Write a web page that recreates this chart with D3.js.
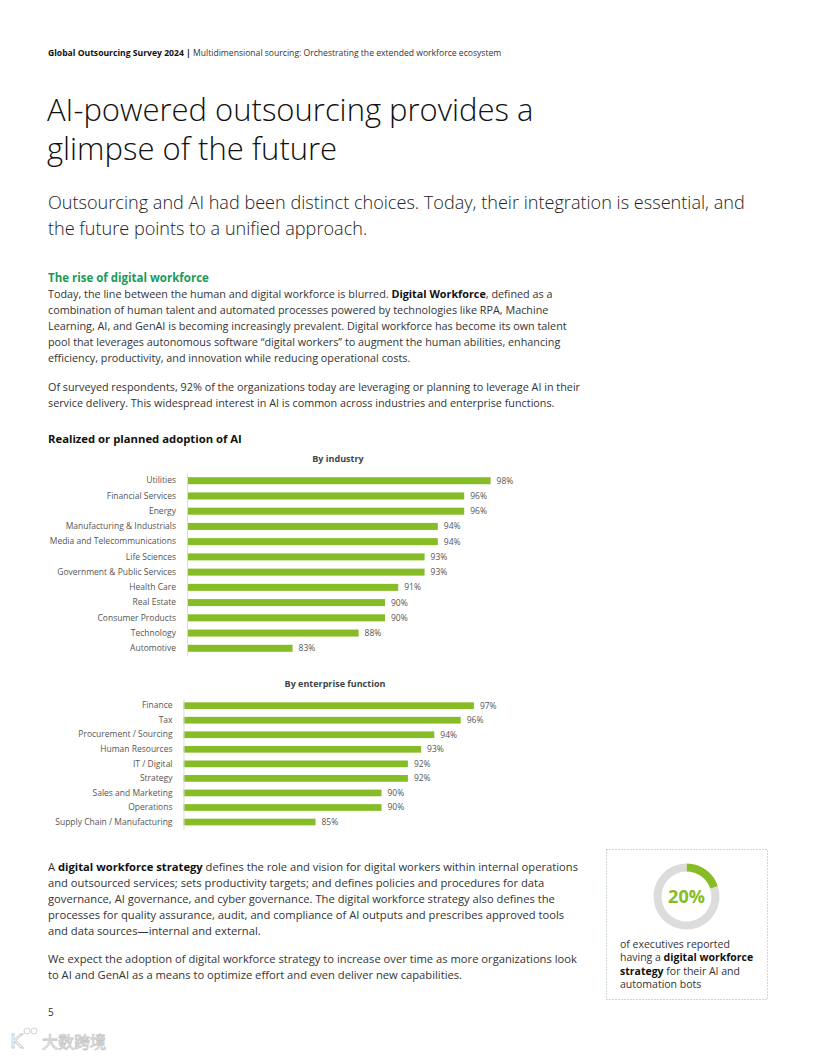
<!DOCTYPE html>
<html>
<head>
<meta charset="utf-8">
<style>
    body { margin: 0; background: #fff; }
    svg { display: block; font-family: 'Open Sans', sans-serif; }
</style>
</head>
<body>
<svg width="816" height="1056"></svg>

<script src="https://d3js.org/d3.v7.min.js"></script>
<script>
    // chart data
    let industries = ["Utilities", "Financial Services", "Energy", "Manufacturing & Industrials",
        "Media and Telecommunications", "Life Sciences", "Government & Public Services",
        "Health Care", "Real Estate", "Consumer Products", "Technology", "Automotive"];
    let industryValues = [98, 96, 96, 94, 94, 93, 93, 91, 90, 90, 88, 83];

    let functions = ["Finance", "Tax", "Procurement / Sourcing", "Human Resources", "IT / Digital",
        "Strategy", "Sales and Marketing", "Operations", "Supply Chain / Manufacturing"];
    let functionValues = [97, 96, 94, 93, 92, 92, 90, 90, 85];

    let donutValues = [20, 80];

    // page text, one entry per line; [text, true] = bold piece
    let para1 = [
        [["Today, the line between the human and digital workforce is blurred. "], ["Digital Workforce", true], [", defined as a"]],
        "combination of human talent and automated processes powered by technologies like RPA, Machine",
        "Learning, AI, and GenAI is becoming increasingly prevalent. Digital workforce has become its own talent",
        "pool that leverages autonomous software \u201cdigital workers\u201d to augment the human abilities, enhancing",
        "efficiency, productivity, and innovation while reducing operational costs."
    ];
    let para2 = [
        "Of surveyed respondents, 92% of the organizations today are leveraging or planning to leverage AI in their",
        "service delivery. This widespread interest in AI is common across industries and enterprise functions."
    ];
    let para3 = [
        [["A "], ["digital workforce strategy", true], [" defines the role and vision for digital workers within internal operations"]],
        "and outsourced services; sets productivity targets; and defines policies and procedures for data",
        "governance, AI governance, and cyber governance. The digital workforce strategy also defines the",
        "processes for quality assurance, audit, and compliance of AI outputs and prescribes approved tools",
        "and data sources\u2014internal and external."
    ];
    let para4 = [
        "We expect the adoption of digital workforce strategy to increase over time as more organizations look",
        "to AI and GenAI as a means to optimize effort and even deliver new capabilities."
    ];
    let boxText = [
        "of executives reported",
        [["having a "], ["digital workforce", true]],
        [["strategy", true], [" for their AI and"]],
        "automation bots"
    ];

    let green = "#86bc25";
    let svg = d3.select("svg");

    function drawLines(x, y0, lh, lines, size, color) {
        let t = svg.append("text")
            .attr("x", x)
            .attr("y", y0)
            .style("font-size", size + "px")
            .style("fill", color);
        lines.forEach((line, i) => {
            let parts = typeof line === "string" ? [[line]] : line;
            parts.forEach((p, j) => {
                let ts = t.append("tspan").text(p[0]);
                if (j === 0) ts.attr("x", x).attr("y", y0 + i * lh);
                if (p[1]) ts.style("font-weight", 700).style("fill", "#111");
            });
        });
        return t;
    }

    // header
    let head = svg.append("text").attr("x", 48).attr("y", 56).style("font-size", "8.6px").style("fill", "#333");
    head.append("tspan").text("Global Outsourcing Survey 2024 | ").style("font-weight", 700).style("fill", "#111");
    head.append("tspan").text("Multidimensional sourcing: Orchestrating the extended workforce ecosystem");

    // title + subtitle
    drawLines(47, 121, 39, ["AI-powered outsourcing provides a", "glimpse of the future"], 31, "#111")
        .style("font-weight", 300);
    drawLines(48, 209, 26, ["Outsourcing and AI had been distinct choices. Today, their integration is essential, and",
        "the future points to a unified approach."], 18.1, "#222")
        .style("font-weight", 300);

    svg.append("text").attr("x", 48).attr("y", 282)
        .style("font-size", "11.5px").style("font-weight", 700).style("fill", "#1a9a5a")
        .text("The rise of digital workforce");

    drawLines(48, 298, 16, para1, 10.8, "#333");
    drawLines(48, 391, 16, para2, 10.8, "#333");

    svg.append("text").attr("x", 48).attr("y", 443)
        .style("font-size", "11.3px").style("font-weight", 700).style("fill", "#111")
        .text("Realized or planned adoption of AI");

    function barChart(names, values, x0, yTop, yBottom, title, titleX, titleY) {
        let x = d3.scaleLinear().domain([75, 100]).range([x0, x0 + 25 * 13.2]);
        let y = d3.scaleBand().domain(names).range([yTop, yBottom])
            .paddingInner(0.54).paddingOuter(0.27);

        let g = svg.append("g");

        g.append("text")
            .attr("x", titleX).attr("y", titleY)
            .attr("text-anchor", "middle")
            .style("font-size", "9px").style("font-weight", 700).style("fill", "#444")
            .text(title);

        g.selectAll("rect")
            .data(names)
            .join("rect")
            .attr("x", x0)
            .attr("y", d => y(d))
            .attr("width", (d, i) => x(values[i]) - x0)
            .attr("height", y.bandwidth())
            .style("fill", green);

        g.selectAll(".val")
            .data(names)
            .join("text")
            .attr("class", "val")
            .attr("x", (d, i) => x(values[i]) + 6)
            .attr("y", d => y(d) + y.bandwidth() / 2)
            .attr("dy", "0.35em")
            .style("font-size", "8.5px")
            .style("fill", "#555")
            .text((d, i) => values[i] + "%");

        let axis = g.append("g")
            .attr("transform", "translate(" + x0 + ",0)")
            .call(d3.axisLeft(y).tickSize(0).tickSizeOuter(0).tickPadding(11));
        axis.select(".domain").style("stroke", "#ddd");
        axis.selectAll("text")
            .style("font-family", "'Open Sans', sans-serif")
            .style("font-size", "8.5px")
            .style("fill", "#555");
    }

    barChart(industries, industryValues, 187, 473.1, 655.9, "By industry", 338, 462);
    barChart(functions, functionValues, 183.5, 698.4, 829.3, "By enterprise function", 335, 687);

    drawLines(48, 871, 16, para3, 11.2, "#333");
    drawLines(48, 963, 16, para4, 11.2, "#333");

    svg.append("text").attr("x", 48).attr("y", 1016)
        .style("font-size", "10px").style("fill", "#333").text("5");

    // side box with donut
    svg.append("rect")
        .attr("x", 606.5).attr("y", 849.5).attr("width", 161).attr("height", 150)
        .style("fill", "none").style("stroke", "#9fb3b8").style("stroke-width", 1)
        .style("stroke-dasharray", "1 2");

    let pie = d3.pie().sort(null)(donutValues);
    let arc = d3.arc().innerRadius(25).outerRadius(33);
    let donut = svg.append("g").attr("transform", "translate(686.5,896.5)");
    donut.selectAll("path")
        .data(pie)
        .join("path")
        .attr("d", arc)
        .style("fill", (d, i) => i === 0 ? green : "#dcdcdc");
    donut.append("text")
        .attr("text-anchor", "middle")
        .attr("y", 6.5)
        .style("font-size", "18px").style("font-weight", 700).style("fill", green)
        .text(donutValues[0] + "%");

    drawLines(620, 948, 13.3, boxText, 10.5, "#333");

    // watermark
    let wm = svg.append("g").style("fill", "none").style("stroke", "#c8c8c8").style("stroke-width", 0.8);
    wm.append("text").attr("x", 10).attr("y", 1048)
        .style("font-size", "20px").style("font-family", "'DejaVu Sans', sans-serif").text("K");
    wm.append("circle").attr("cx", 27).attr("cy", 1031).attr("r", 3);
    wm.append("circle").attr("cx", 34).attr("cy", 1031).attr("r", 3);
    wm.append("text").attr("x", 42).attr("y", 1048)
        .style("font-size", "16px").style("font-family", "'Noto Sans CJK SC', sans-serif").text("大数跨境");
</script>
</body>
</html>
